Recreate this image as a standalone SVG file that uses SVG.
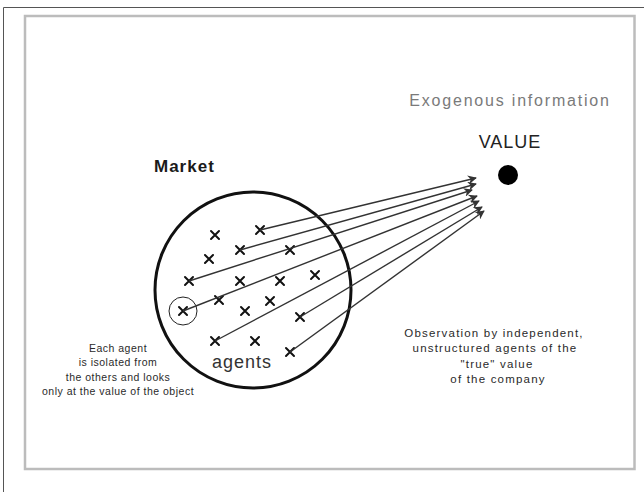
<svg xmlns="http://www.w3.org/2000/svg" width="644" height="492" viewBox="0 0 644 492">
  <style>
    .lbl { font-family: "Liberation Sans", Arial, sans-serif; fill: #1a1a1a; }
    .note { font-family: "Liberation Sans", Arial, sans-serif; fill: #2a2a2a; text-anchor: middle; }
    .left { font-size: 10.5px; letter-spacing: 0.5px; }
    .right { font-size: 11.5px; letter-spacing: 1.2px; }
    .agent { stroke: #111; stroke-width: 2; stroke-linecap: round; fill: none; }
    .obs { stroke: #333; stroke-width: 1.4; fill: none; marker-end: url(#head); }
  </style>
  <defs>
    <marker id="head" viewBox="0 0 10 10" refX="9" refY="5" markerWidth="9" markerHeight="9" markerUnits="userSpaceOnUse" orient="auto">
      <path d="M0,0 L10,5 L0,10 L3,5 Z" fill="#333"/>
    </marker>
    <path id="x" class="agent" d="M-4,-4 L4,4 M4,-4 L-4,4"/>
  </defs>

  <!-- page frames -->
  <rect x="0" y="0" width="644" height="492" fill="#fff"/>
  <path d="M3.5,492 L3.5,7.5 L644,7.5" stroke="#555" stroke-width="1" fill="none"/>
  <rect x="25" y="16" width="609.5" height="453" fill="none" stroke="#bcbcbc" stroke-width="2.5"/>

  <!-- market with its agents -->
  <g id="market">
    <circle cx="253" cy="290" r="98" fill="none" stroke="#111" stroke-width="3"/>
    <text class="lbl" x="154" y="172" font-size="17" font-weight="bold" letter-spacing="1">Market</text>
    <text class="lbl" x="242" y="368" font-size="18" letter-spacing="1" text-anchor="middle" style="fill:#333">agents</text>
  </g>

  <g id="agents">
    <use href="#x" x="215" y="235"/>
    <use href="#x" x="260" y="230"/>
    <use href="#x" x="240" y="250"/>
    <use href="#x" x="290" y="250"/>
    <use href="#x" x="209" y="259"/>
    <use href="#x" x="189" y="281"/>
    <use href="#x" x="240" y="281"/>
    <use href="#x" x="280" y="281"/>
    <use href="#x" x="315" y="275"/>
    <use href="#x" x="219" y="300"/>
    <use href="#x" x="270" y="301"/>
    <use href="#x" x="245" y="311"/>
    <use href="#x" x="300" y="317"/>
    <use href="#x" x="215" y="341"/>
    <use href="#x" x="255" y="341"/>
    <use href="#x" x="290" y="352"/>
  </g>

  <g id="isolated-agent">
    <use href="#x" x="183" y="311"/>
    <circle cx="183" cy="311" r="14" fill="none" stroke="#222" stroke-width="1"/>
  </g>

  <!-- value of the company -->
  <g id="value">
    <text class="lbl" x="510" y="106" font-size="16" letter-spacing="1.8" text-anchor="middle" style="fill:#7a7a7a">Exogenous information</text>
    <text class="lbl" x="510" y="148" font-size="18" letter-spacing="1" text-anchor="middle" style="fill:#222">VALUE</text>
    <circle cx="508" cy="175" r="10" fill="#000"/>
  </g>

  <!-- observation arrows -->
  <g id="connectors">
    <line class="obs" x1="260" y1="230" x2="476" y2="178"/>
    <line class="obs" x1="240" y1="250" x2="476" y2="184"/>
    <line class="obs" x1="189" y1="281" x2="472" y2="190"/>
    <line class="obs" x1="183" y1="311" x2="477" y2="196"/>
    <line class="obs" x1="215" y1="341" x2="479" y2="201"/>
    <line class="obs" x1="300" y1="317" x2="482" y2="207"/>
    <line class="obs" x1="290" y1="352" x2="484" y2="211"/>
  </g>

  <!-- notes -->
  <g id="note-left">
    <text class="note left" x="118" y="352">Each agent</text>
    <text class="note left" x="118" y="366">is isolated from</text>
    <text class="note left" x="118" y="381">the others and looks</text>
    <text class="note left" x="118" y="395">only at the value of the object</text>
  </g>
  <g id="note-right">
    <text class="note right" x="494" y="337">Observation by independent,</text>
    <text class="note right" x="495" y="352">unstructured agents of the</text>
    <text class="note right" x="497" y="368">"true" value</text>
    <text class="note right" x="498" y="383">of the company</text>
  </g>
</svg>
